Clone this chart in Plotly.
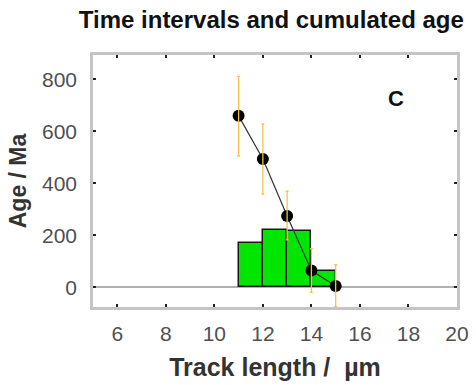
import plotly.graph_objects as go

# Data
bin_left = [11, 12, 13, 14]
bin_heights = [169, 220, 215, 63]
pt_x = [11, 12, 13, 14, 15]
pt_age = [659, 493, 274, 64, 5]
err_plus = [152, 135, 95, 84, 82]
err_minus = [154, 135, 92, 84, 80]
x_ticks = [6, 8, 10, 12, 14, 16, 18, 20]
y_ticks = [0, 200, 400, 600, 800]

FONT = "Liberation Sans, Arial, sans-serif"

fig = go.Figure()
fig.add_trace(go.Bar(
    x=[b + 0.5 for b in bin_left], y=bin_heights, width=1,
    marker=dict(color="#00e600", line=dict(color="#1a1a1a", width=1.5)),
    showlegend=False,
))
fig.add_trace(go.Scatter(
    x=pt_x, y=pt_age, mode="lines+markers",
    line=dict(color="#333333", width=1.2),
    marker=dict(color="#000000", size=12),
    showlegend=False,
))
fig.add_trace(go.Scatter(
    x=pt_x, y=pt_age, mode="markers",
    marker=dict(color="rgba(0,0,0,0)", size=1),
    error_y=dict(type="data", array=err_plus, arrayminus=err_minus,
                 color="#f7c04e", thickness=1.3, width=1.5),
    showlegend=False,
))

fig.add_annotation(x=17.5, y=724, text="<b>C</b>", showarrow=False,
                   font=dict(family=FONT, size=22, color="#111111"))

fig.update_layout(
    width=476, height=385,
    margin=dict(l=93, r=19, t=55, b=78, autoexpand=False),
    paper_bgcolor="white", plot_bgcolor="white",
    bargap=0,
    title=dict(text="<b>Time intervals and cumulated age</b>", x=0.57, xanchor="center",
               y=0.948, yanchor="middle",
               font=dict(family=FONT, size=24, color="#111111")),
    font=dict(family=FONT, color="#444444"),
    xaxis=dict(range=[5, 20], tickvals=x_ticks, ticks="inside", ticklen=3,
               tickcolor="#222222", tickwidth=1.5, automargin=False,
               showline=True, mirror="ticks", linecolor="#c4c4c4", linewidth=2.5,
               showgrid=False, zeroline=False,
               ticklabelstandoff=6,
               tickfont=dict(size=21, color="#505050"),
               title=dict(text="<b>Track length /  µm</b>", standoff=15,
                          font=dict(size=25, color="#333333"))),
    yaxis=dict(range=[-76, 893], tickvals=y_ticks, ticks="inside", ticklen=3,
               tickcolor="#222222", tickwidth=1.5, automargin=False,
               showline=True, mirror="ticks", linecolor="#c4c4c4", linewidth=2.5,
               showgrid=False, zeroline=True, zerolinecolor="#b0b0b0", zerolinewidth=2,
               ticklabelstandoff=9,
               tickfont=dict(size=21, color="#505050"),
               title=dict(text="<b>Age / Ma</b>", standoff=9,
                          font=dict(size=23, color="#333333"))),
)

fig.write_html("out.html")
